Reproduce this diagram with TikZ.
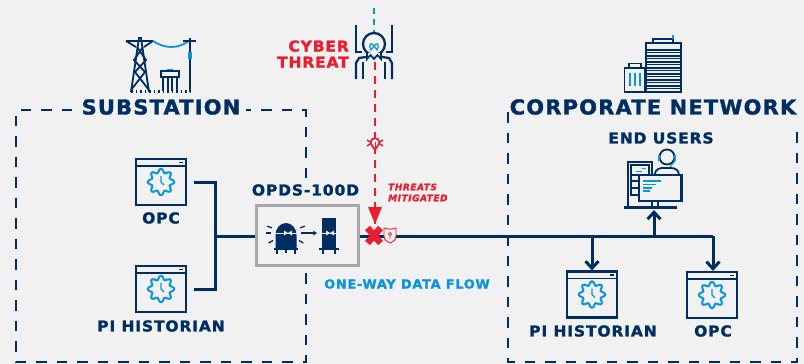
\documentclass[tikz,border=0pt]{standalone}
\usepackage{fontspec}
\newfontfamily\headface{DejaVu Sans Bold}[FakeBold=1.6,FakeStretch=1.02,LetterSpace=6]
\newfontfamily\tagface{DejaVu Sans Bold}[FakeBold=1.6,FakeStretch=1.03,LetterSpace=6]
\newfontfamily\slantface{DejaVu Sans Bold Oblique}[FakeBold=1,FakeStretch=1.0,LetterSpace=6]
\usetikzlibrary{arrows.meta}
\definecolor{navy}{HTML}{002D62}
\definecolor{skyblue}{HTML}{0A94DE}
\definecolor{threatred}{HTML}{ED1C2E}
\definecolor{boxgrey}{HTML}{A8A8A8}
\definecolor{paper}{HTML}{F1F1F1}
\tikzset{
    title/.style={font=\fontsize{20.5}{20.5}\selectfont\headface, text=navy, inner sep=0pt},
    tag/.style={font=\fontsize{15}{15}\selectfont\tagface, text=navy, inner sep=0pt},
    zonedash/.style={navy, line width=2.8pt, dash pattern=on 10.5pt off 10pt},
    netline/.style={navy, line width=3pt},
    downarrow/.style={netline, -{Straight Barb[length=7pt,width=13pt,line width=3pt]}},
    icon/.style={navy, line width=1.8pt},
    bluepart/.style={skyblue, line width=1.8pt},
    winbox/.style={draw=navy, line width=2.2pt, fill=none, minimum width=50pt, minimum height=46pt, inner sep=0pt},
    gearclock/.pic={
        \draw[navy, line width=1.7pt] (-25,-16) -- (25,-16);
        \draw[navy, line width=1.6pt] (18,-19.5) -- (22,-19.5);
        \draw[bluepart, line width=2pt] plot[domain=0:360, samples=160] (\x:{11.3+1.9*cos(8*\x)}) -- cycle;
        \draw[bluepart, line width=1.3pt] (0,-6) -- (0,0) -- (3,3);
    },
}
\begin{document}
\begin{tikzpicture}[x=1pt, y=-1pt]
    \fill[paper] (0,0) rectangle (804,364);
    \useasboundingbox (0,0) rectangle (804,364);

    % zones
    \draw[zonedash] (72,110) -- (16,110) -- (16,362) -- (306,362) -- (306,273);
    \draw[zonedash] (306,178) -- (306,110) -- (246,110);
    \draw[zonedash] (508,112) -- (508,362) -- (797,362) -- (797,126);
    \node[title] (substation) at (161,107) {SUBSTATION};
    \node[title] (corporate) at (653,107) {CORPORATE NETWORK};

    % substation side
    \node[winbox] (opcleft) at (161,182) {};
    \pic at (opcleft) {gearclock};
    \node[winbox] (pileft) at (161,289) {};
    \pic at (pileft) {gearclock};
    \node[tag] (opcleftlabel) at (161,218) {OPC};
    \node[tag] (pileftlabel) at (161,326) {PI HISTORIAN};

    % corporate side
    \node[winbox] (piright) at (592,294.5) {};
    \pic at (piright) {gearclock};
    \node[winbox] (opcright) at (712,295) {};
    \pic at (opcright) {gearclock};
    \node[tag] (pirightlabel) at (593,331) {PI HISTORIAN};
    \node[tag] (opcrightlabel) at (713,331) {OPC};
    \node[tag] (endusers) at (661,138) {END USERS};

    % diode box
    \node[draw=boxgrey, line width=3pt, minimum width=102pt, minimum height=60pt, inner sep=0pt] (opds) at (307.5,235) {};
    \node[tag] (opdslabel) at (305.5,190) {OPDS-100D};
    \node[font=\fontsize{12.5}{12.5}\selectfont\tagface, text=skyblue, inner sep=0pt] (oneway) at (407,284) {ONE-WAY DATA FLOW};

    % network lines
    \coordinate (busleft) at (215,236);
    \coordinate (endright) at (713,236);
    \coordinate (pidrop) at (592,236);
    \coordinate (userdrop) at (654,236);
    \coordinate (usertip) at (654,210);
    \coordinate (threattop) at (375,62);
    \coordinate (threattip) at (375,225);
    \coordinate (threatfeed) at (374,8);
    \coordinate (skullcap) at (374,33);
    \draw[netline] ([xshift=7pt]opcleft.east) -| (busleft) |- ([xshift=7pt]pileft.east);
    \draw[netline] (busleft) -- (busleft -| opds.west);
    \draw[netline] (busleft -| opds.east) -- (endright);
    \draw[downarrow] (pidrop) -- (piright.north);
    \draw[downarrow] (endright) -- (opcright.north -| endright);
    \draw[downarrow] (userdrop) -- (usertip);

    % threat
    \draw[threatred, line width=2pt, dash pattern=on 8pt off 6pt] (threattop) -- (threattip);
    \draw[skyblue, line width=2.4pt, dash pattern=on 6pt off 5pt] (threatfeed) -- (skullcap);
    \fill[threatred] (368,207) -- (382,207) -- (375,224) -- cycle;
    \node[inner sep=0pt, minimum size=0pt] (xmark) at (374,235) {};
    \draw[threatred, line width=6.5pt] (367.5,228) -- (380.5,243);
    \draw[threatred, line width=6.5pt] (380.5,228) -- (367.5,243);
    \filldraw[draw=threatred, fill=paper, line width=0.9pt] (384,228) .. controls (388,229.5) and (392,229.5) .. (396,228) -- (396,236) .. controls (396,240) and (393,242) .. (390,243) .. controls (387,242) and (384,240) .. (384,236) -- cycle;
    \draw[threatred, line width=0.8pt] (390,234) circle (1.6pt) (390,235.6) -- (390,239);
    \node[font=\fontsize{15}{16}\selectfont\tagface, text=threatred, align=right, anchor=east, inner sep=0pt] (cyber) at (349,54) {CYBER\\THREAT};
    \node[font=\fontsize{9}{11}\selectfont\slantface, text=threatred, align=left, anchor=west, inner sep=0pt] (mitigated) at (388,192.5) {THREATS\\MITIGATED};

    % bug on the threat line
    \filldraw[threatred, fill=paper, line width=1.8pt] (375,150) -- (370.5,143) arc[start angle=180, end angle=360, x radius=4.5pt, y radius=-5pt] -- cycle;
    \draw[threatred, line width=1.5pt] (367,140) -- (370,142) (367,146) -- (370,144) (383,140) -- (380,142) (383,146) -- (380,144) (375,150) -- (375,152);
    \draw[threatred, line width=1pt] (375,142) -- (375,149);

    % skull and legs
    \fill[paper] (361,32) rectangle (387,60);
    \draw[icon, line width=2.3pt] (374,44) circle (11pt);
    \fill[paper] (367,53) rectangle (381,56);
    \draw[icon, line width=1.7pt] (367,52) -- (367,59) -- (370.5,55) -- (374,59) -- (377.5,55) -- (381,59) -- (381,52);
    \draw[skyblue, line width=1.2pt] (374,46) .. controls (371,41) and (368,45) .. (371,50) -- (374,46) .. controls (377,41) and (380,45) .. (377,50) -- cycle;
    \draw[icon, line width=2.2pt] (356,25) -- (356,52) -- (362,52);
    \draw[icon, line width=2.2pt] (392,25) -- (392,52) -- (386,52);
    \draw[icon, line width=2.2pt] (356,79) -- (356,63) -- (359,58) -- (366,57);
    \draw[icon, line width=2.2pt] (392,79) -- (392,63) -- (389,58) -- (382,57);
    \draw[icon, line width=2.2pt] (363,79) -- (363,62);
    \draw[icon, line width=2.2pt] (385,79) -- (385,62);

    % tower and pole
    \draw[icon] (131,92) -- (139,38) -- (141,38) -- (149,92);
    \draw[icon] (126,41) -- (153,41);
    \draw[icon] (126,41) -- (136,47) (153,41) -- (144,47);
    \draw[icon] (137,47) -- (146,60) -- (135,72) -- (149,90);
    \draw[icon] (143,47) -- (134,60) -- (145,72) -- (131,90);
    \draw[bluepart] (153,41) .. controls (165,49) and (178,49) .. (189,41);
    \draw[icon] (190,38) -- (190,92) (183,41) -- (196,41);
    \fill[skyblue] (188,52) rectangle (192,59);
    \draw[icon] (161,71) rectangle (179,77);
    \draw[icon] (163,77) -- (163,91) (168,77) -- (168,91) (172,77) -- (172,91) (177,77) -- (177,91);
    \draw[bluepart, line width=1pt] (167,69) -- (173,69);
    \draw[icon, line width=3pt, dash pattern=on 1.5pt off 3pt] (131,91) -- (190,91);

    % buildings
    \draw[icon] (646,43) rectangle (681,92);
    \draw[icon, line width=2.4pt] (645,43) -- (682,43);
    \foreach \rowy in {50,56,62,68,74,80,86} {
        \draw[icon, line width=1.3pt] (646,\rowy) -- (681,\rowy);
        \draw[navy, line width=0.7pt] (646,\rowy+2) -- (681,\rowy+2);
    }
    \draw[icon] (653,43) -- (653,39) -- (673,39) -- (673,43);
    \draw[bluepart] (673,39) -- (673,35);
    \draw[icon] (624.5,68) rectangle (645,92);
    \draw[icon] (629,68) -- (629,63.5) -- (641,63.5) -- (641,68);
    \foreach \barx in {630,635,640} {
        \draw[bluepart] (\barx,73) -- (\barx,86);
    }

    % end user
    \draw[icon] (628,207) -- (628,162) -- (652,162) -- (652,175);
    \draw[icon, line width=1.2pt] (631,165) rectangle (649,175);
    \draw[icon, line width=1.2pt] (631,175) -- (631,195) -- (639,195) (631,181) -- (639,181) (631,188) -- (639,188);
    \draw[bluepart, line width=1pt] (636,171) -- (642,171) (642,168) -- (646,168);
    \draw[icon] (667,157) circle (7.5pt);
    \draw[icon] (655,175) .. controls (655,168) and (661,168) .. (664,168) -- (671,168) .. controls (675,168) and (679,170) .. (679,175);
    \draw[skyblue, line width=2.8pt] (659,155) -- (659,161) (675,155) -- (675,161);
    \draw[bluepart, line width=1pt] (675,161) -- (670,167);
    \draw[icon, line width=2.2pt] (639,175) rectangle (681.5,201);
    \draw[skyblue, line width=1.5pt] (643,181) -- (661,181) (643,184.5) -- (656,184.5) (643,188) -- (652,188) (643,191) -- (650,191);
    \draw[icon] (652,201) -- (652,207) (658,201) -- (658,207);
    \draw[icon, line width=2.2pt] (624,207.5) -- (677,207.5);

    % diode icons inside the box
    \fill[navy] (275.5,248) -- (275.5,235) arc[start angle=180, end angle=360, x radius=10.5pt, y radius=-12pt] -- (296.5,248) -- cycle;
    \fill[navy] (322,218) rectangle (336,248);
    \draw[navy, line width=1.4pt] (274,249) -- (298,249) (277,249) -- (277,254) (295,249) -- (295,254);
    \draw[navy, line width=1.4pt] (319,249) -- (339,249) (323,249) -- (323,254) (335,249) -- (335,254);
    \draw[paper, line width=0.8pt] (276,233) -- (297,233) (322,233) -- (336,233);
    \fill[paper] (284,230.5) -- (288,233) -- (284,235.5) -- cycle (292,230.5) -- (288,233) -- (292,235.5) -- cycle;
    \fill[paper] (326,230.5) -- (330,233) -- (326,235.5) -- cycle (334,230.5) -- (330,233) -- (334,235.5) -- cycle;
    \draw[navy, line width=1.3pt, -{Stealth[length=4pt,width=5pt]}] (301,233) -- (317,233);
    \foreach \rayangle in {0,30,60,90,120,150,180,-20,200} {
        \draw[navy, line width=1.3pt] (286,233) ++(-\rayangle:15pt) -- ++(-\rayangle:5pt);
    }
\end{tikzpicture}
\end{document}
